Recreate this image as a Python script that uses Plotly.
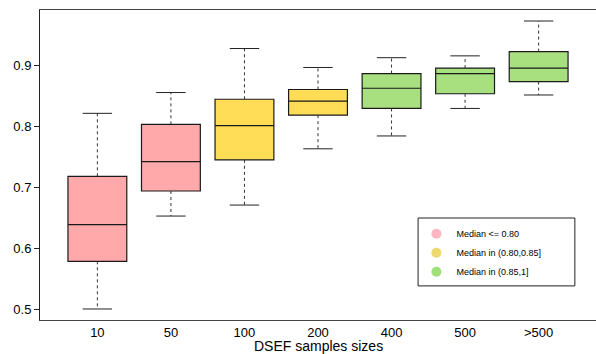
import plotly.graph_objects as go

categories = ["10", "50", "100", "200", "400", "500", ">500"]
lower = [0.501, 0.653, 0.671, 0.763, 0.784, 0.829, 0.851]
q1 = [0.579, 0.694, 0.745, 0.818, 0.829, 0.853, 0.873]
median = [0.639, 0.742, 0.801, 0.841, 0.862, 0.886, 0.895]
q3 = [0.718, 0.803, 0.844, 0.860, 0.886, 0.895, 0.922]
upper = [0.821, 0.855, 0.927, 0.896, 0.912, 0.915, 0.972]

group_names = ["Median <= 0.80", "Median in (0.80,0.85]", "Median in (0.85,1]"]
box_colors = ["#FFA9AB", "#FFDD57", "#A8E080"]
legend_colors = ["#FFB6C1", "#EED870", "#A0E07C"]

def group_of(m):
    if m <= 0.80:
        return 0
    if m <= 0.85:
        return 1
    return 2

fig = go.Figure()
pos = list(range(1, len(categories) + 1))

for i, cat in enumerate(categories):
    x = pos[i]
    g = group_of(median[i])
    fig.add_trace(go.Scatter(
        x=[x, x, None, x, x], y=[q3[i], upper[i], None, q1[i], lower[i]],
        mode="lines", line=dict(color="#333333", width=1, dash="dot"),
        showlegend=False, hoverinfo="skip"))
    fig.add_trace(go.Scatter(
        x=[x - 0.2, x + 0.2, None, x - 0.2, x + 0.2],
        y=[upper[i], upper[i], None, lower[i], lower[i]],
        mode="lines", line=dict(color="#222222", width=1),
        showlegend=False, hoverinfo="skip"))
    fig.add_trace(go.Box(
        x=[x], q1=[q1[i]], median=[median[i]], q3=[q3[i]],
        lowerfence=[q1[i]], upperfence=[q3[i]],
        width=0.8, whiskerwidth=0,
        fillcolor=box_colors[g], line=dict(color="#1a1a1a", width=1.2),
        showlegend=False, hoverinfo="skip", boxpoints=False))

for name, col in zip(group_names, legend_colors):
    fig.add_trace(go.Scatter(
        x=[None], y=[None], mode="markers", name=name,
        marker=dict(color=col, size=10, symbol="circle")))

fig.update_layout(
    width=596, height=354,
    margin=dict(l=40, r=0, t=10, b=34, autoexpand=False),
    plot_bgcolor="white", paper_bgcolor="white",
    font=dict(family="Liberation Sans, Arial, sans-serif", color="black"),
    legend=dict(x=0.677, y=0.325, xanchor="left", yanchor="top",
                borderwidth=0, bgcolor="rgba(0,0,0,0)",
                font=dict(size=9), itemwidth=30),
    boxmode="overlay",
    shapes=[dict(type="rect", xref="paper", yref="paper",
                 x0=0.680, x1=0.962, y0=0.110, y1=0.329,
                 line=dict(color="#222222", width=1), fillcolor="white",
                 layer="above")],
    annotations=[dict(text="DSEF samples sizes", x=0.5, y=-(345.5 - 320) / 310,
                      xref="paper", yref="paper", yanchor="middle",
                      showarrow=False, font=dict(size=14))],
)
fig.update_xaxes(
    range=[0.22, 7.78], tickmode="array", tickvals=pos, ticktext=categories,
    showline=True, linecolor="#444444", linewidth=1, mirror=True,
    ticks="", tickfont=dict(size=13), showgrid=False, zeroline=False,
    automargin=False)
fig.update_yaxes(
    range=[0.483, 0.99], tickvals=[0.5, 0.6, 0.7, 0.8, 0.9],
    ticktext=["0.5", "0.6", "0.7", "0.8", "0.9"],
    showline=True, linecolor="#222222", linewidth=1,
    ticks="outside", ticklen=5, tickcolor="#222222",
    tickfont=dict(size=13), showgrid=False, zeroline=False,
    automargin=False)

fig.write_html("out.html", config={"displayModeBar": False},
               post_script="document.body.style.margin='0';document.body.style.overflow='hidden';")
